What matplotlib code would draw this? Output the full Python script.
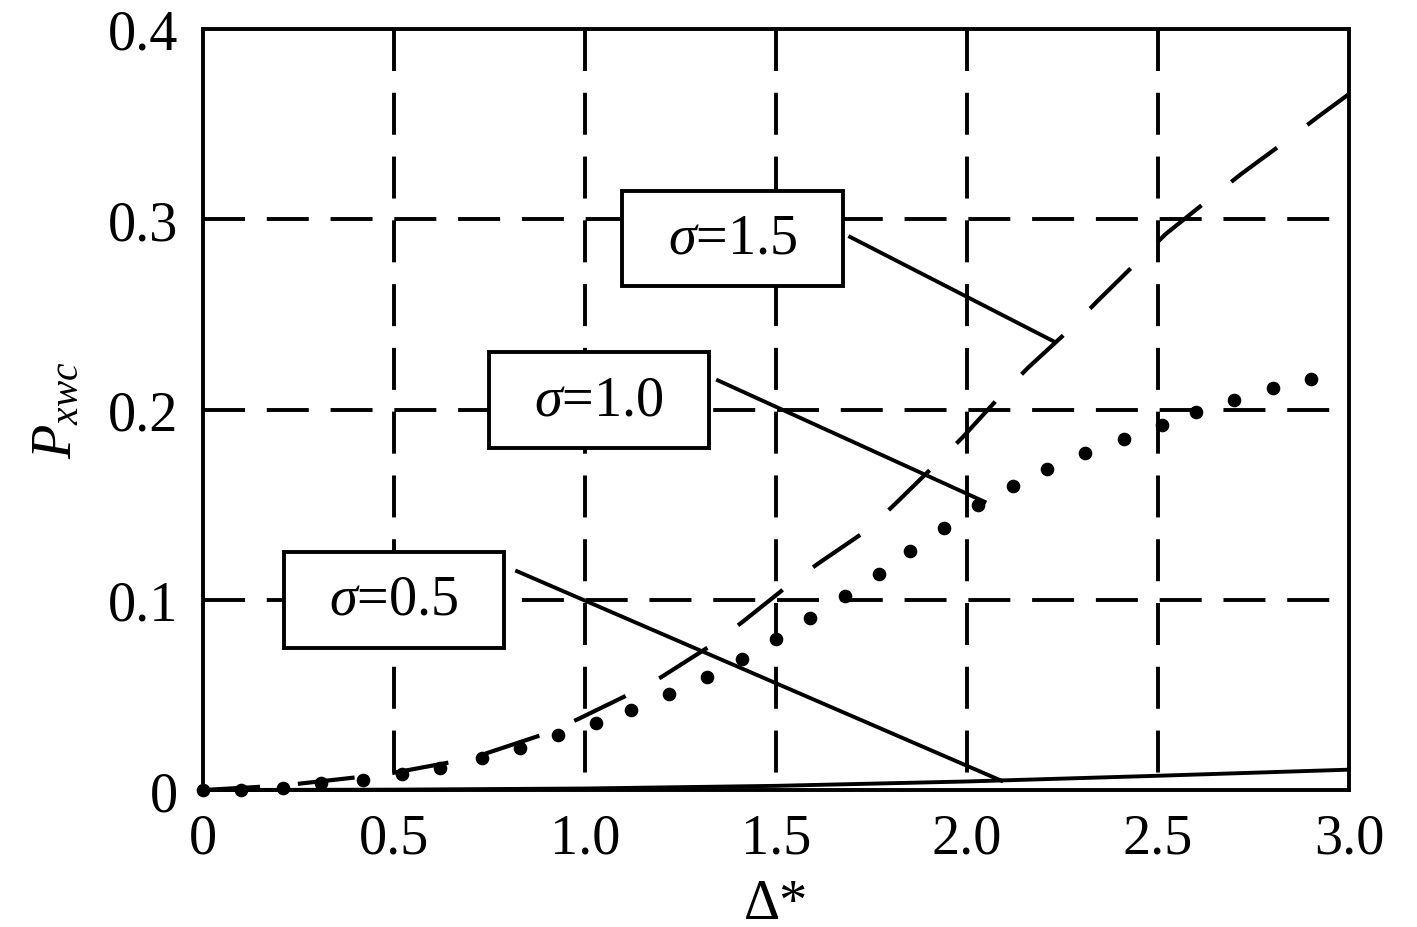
import numpy as np
import matplotlib.pyplot as plt
from matplotlib.patches import Rectangle

plt.rcParams['font.family'] = ['Liberation Serif', 'DejaVu Serif']
plt.rcParams['mathtext.fontset'] = 'custom'
plt.rcParams['mathtext.rm'] = 'Liberation Serif'
plt.rcParams['mathtext.it'] = 'Liberation Serif:italic'

# sigma = 0.5 (solid)
x_s05 = [0.0, 0.5, 1.0, 1.5, 2.0, 2.5, 3.0]
y_s05 = [0.0, 0.0002, 0.0008, 0.0022, 0.0045, 0.0075, 0.0107]

# sigma = 1.0 (dots)
x_s10 = [0.0, 0.10, 0.21, 0.31, 0.42, 0.52, 0.62, 0.73, 0.83, 0.93, 1.03,
         1.12, 1.22, 1.32, 1.41, 1.50, 1.59, 1.68, 1.77, 1.85, 1.94, 2.03,
         2.12, 2.21, 2.31, 2.41, 2.51, 2.60, 2.70, 2.80, 2.90]
y_s10 = [0.0, 0.0, 0.0012, 0.0038, 0.0052, 0.0082, 0.0117, 0.0170, 0.0222,
         0.0287, 0.0353, 0.0423, 0.0505, 0.0593, 0.0689, 0.0795, 0.0905,
         0.1018, 0.1133, 0.1254, 0.1379, 0.1496, 0.1596, 0.1689, 0.1772,
         0.1847, 0.1918, 0.1988, 0.2049, 0.2111, 0.2160]

# sigma = 1.5 (long dashes)
x_s15 = [0.0, 0.15, 0.25, 0.43, 0.50, 0.65, 0.74, 0.89, 0.98, 1.11, 1.20,
         1.33, 1.41, 1.53, 1.61, 1.74, 1.81, 1.92, 1.99, 2.09, 2.16, 2.27,
         2.34, 2.45, 2.52, 2.64, 2.72, 2.84, 2.92, 3.0]
y_s15 = [0.0, 0.0017, 0.0033, 0.0073, 0.0091, 0.0147, 0.0192, 0.0292,
         0.0371, 0.0498, 0.0594, 0.0760, 0.0880, 0.1072, 0.1190, 0.1368,
         0.1500, 0.1716, 0.1857, 0.2077, 0.2220, 0.2423, 0.2567, 0.2784,
         0.2922, 0.3115, 0.3241, 0.3418, 0.3540, 0.3658]

x_ticks = [0, 0.5, 1.0, 1.5, 2.0, 2.5, 3.0]
x_ticklabels = ['0', '0.5', '1.0', '1.5', '2.0', '2.5', '3.0']
y_ticks = [0, 0.1, 0.2, 0.3, 0.4]
y_ticklabels = ['0', '0.1', '0.2', '0.3', '0.4']

# label boxes: text, box (x0, x1, y0, y1), leader (start, end)
labels = [r'$\sigma$=1.5', r'$\sigma$=1.0', r'$\sigma$=0.5']
boxes = [(1.097, 1.675, 0.2648, 0.3150),
         (0.749, 1.325, 0.1797, 0.2302),
         (0.212, 0.788, 0.0747, 0.1251)]
leaders = [((1.694, 0.2907), (2.230, 0.2355)),
           ((1.348, 0.2153), (2.046, 0.1515)),
           ((0.822, 0.1150), (2.090, 0.0049))]

lw = 2.8
fs = 40.5

fig = plt.figure(figsize=(14.17, 9.28), dpi=100)
ax = fig.add_axes([0.1433, 0.1476, 0.8087, 0.8201])
ax.set_xlim(0, 3.0)
ax.set_ylim(0, 0.4)

# dashed grid, drawn by hand so the dash phase matches
for xv in x_ticks[1:-1]:
    ax.plot([xv, xv], [0.4, 0], color='black', lw=lw,
            linestyle=(0, (10.8, 5.6)), zorder=1)
for yv in y_ticks[1:-1]:
    ax.plot([0, 3.0], [yv, yv], color='black', lw=lw,
            linestyle=(0, (10.8, 5.6)), zorder=1)

ax.plot(x_s05, y_s05, color='black', lw=lw, zorder=3, clip_on=False)
ax.plot(x_s10, y_s10, 'o', color='black', ms=8.8, zorder=3, clip_on=False)
ax.plot(x_s15, y_s15, color='black', lw=3.0,
        linestyle=(0, (13.7, 9.1)), zorder=3)

for text, (x0, x1, y0, y1), (p0, p1) in zip(labels, boxes, leaders):
    ax.add_patch(Rectangle((x0, y0), x1 - x0, y1 - y0, facecolor='white',
                           edgecolor='black', lw=lw, zorder=4))
    ax.text((x0 + x1) / 2, (y0 + y1) / 2, text, fontsize=fs,
            ha='center', va='center', zorder=5)
    ax.plot([p0[0], p1[0]], [p0[1], p1[1]], color='black', lw=lw, zorder=4)

ax.set_xticks(x_ticks)
ax.set_xticklabels(x_ticklabels)
ax.set_yticks(y_ticks)
ax.set_yticklabels(y_ticklabels)
ax.tick_params(axis='both', length=0, labelsize=fs)
ax.tick_params(axis='x', pad=16)
ax.tick_params(axis='y', pad=18)

for sp in ax.spines.values():
    sp.set_linewidth(lw)
    sp.set_zorder(6)

ax.set_xlabel('Δ*', fontsize=fs)
ax.set_ylabel(r'$P_{xwc}$', fontsize=fs)
ax.xaxis.set_label_coords(0.5, -0.115)
ax.yaxis.set_label_coords(-0.105, 0.5)

fig.savefig('out.png', dpi=100)
